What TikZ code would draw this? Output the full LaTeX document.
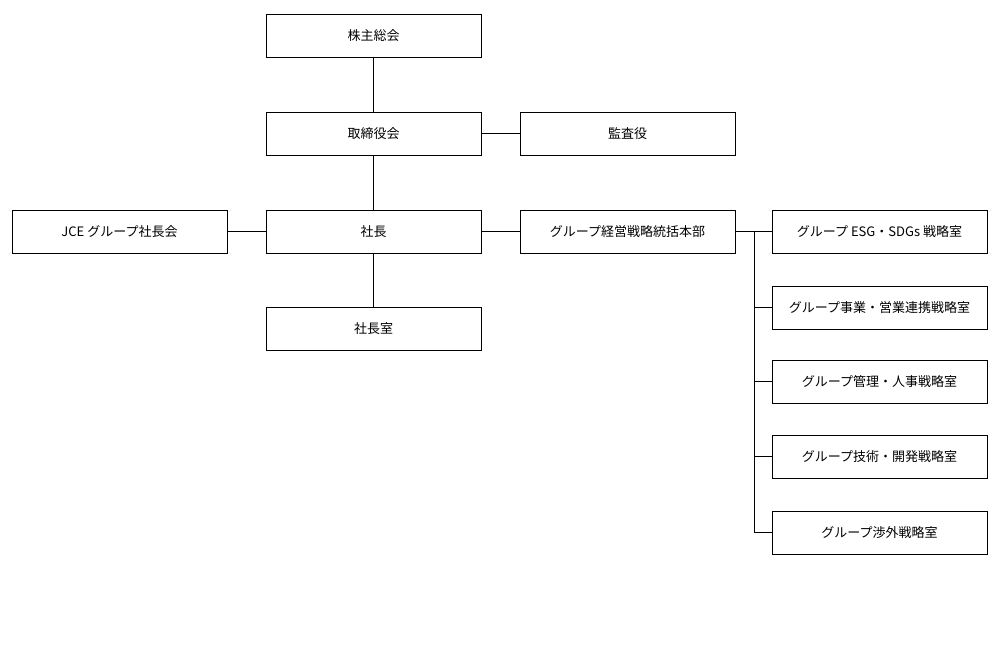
\documentclass[tikz,border=0pt]{standalone}
\usepackage{fontspec}
\setmainfont{Noto Sans CJK JP}
\usetikzlibrary{positioning}

\begin{document}
\begin{tikzpicture}[x=1pt, y=-1pt, on grid, node distance=98pt and 254pt]
  \tikzstyle{unit} = [draw, line width=0.9pt, fill=white, rectangle, minimum height=43pt, minimum width=215pt, inner sep=0pt, font={\fontsize{13}{15}\selectfont}]
  \tikzstyle{unitEdge} = [black, line width=0.9pt]
  \useasboundingbox (0,0) rectangle (1000,657);

	\node[unit](agm) at (373.5,35.5) {株主総会};
	\node[unit](board) [below=of agm]{取締役会};
	\node[unit](audit) [right=of board]{監査役};
	\node[unit](pres) [below=of board]{社長};
	\node[unit](jce) [left=of pres]{JCE グループ社長会};
	\node[unit](hq) [right=of pres]{グループ経営戦略統括本部};
	\node[unit](office) [below=97pt of pres]{社長室};

	\node[unit](esg) [right=252pt of hq]{グループ ESG・SDGs 戦略室};
	\node[unit](biz) [below=76pt of esg]{グループ事業・営業連携戦略室};
	\node[unit](mgmt) [below=74pt of biz]{グループ管理・人事戦略室};
	\node[unit](tech) [below=75pt of mgmt]{グループ技術・開発戦略室};
	\node[unit](ext) [below=76pt of tech]{グループ渉外戦略室};

	\coordinate (bus) at (754,231.5);
	\draw[unitEdge] (agm) -- (board);
	\draw[unitEdge] (board) -- (audit);
	\draw[unitEdge] (board) -- (pres);
	\draw[unitEdge] (jce) -- (pres);
	\draw[unitEdge] (pres) -- (hq);
	\draw[unitEdge] (pres) -- (office);
	\draw[unitEdge] (hq) -- (esg);
	\draw[unitEdge] (bus) |- (ext.west);
	\foreach \n in {biz,mgmt,tech}
		\draw[unitEdge] (bus |- \n.west) -- (\n.west);
\end{tikzpicture}
\end{document}
